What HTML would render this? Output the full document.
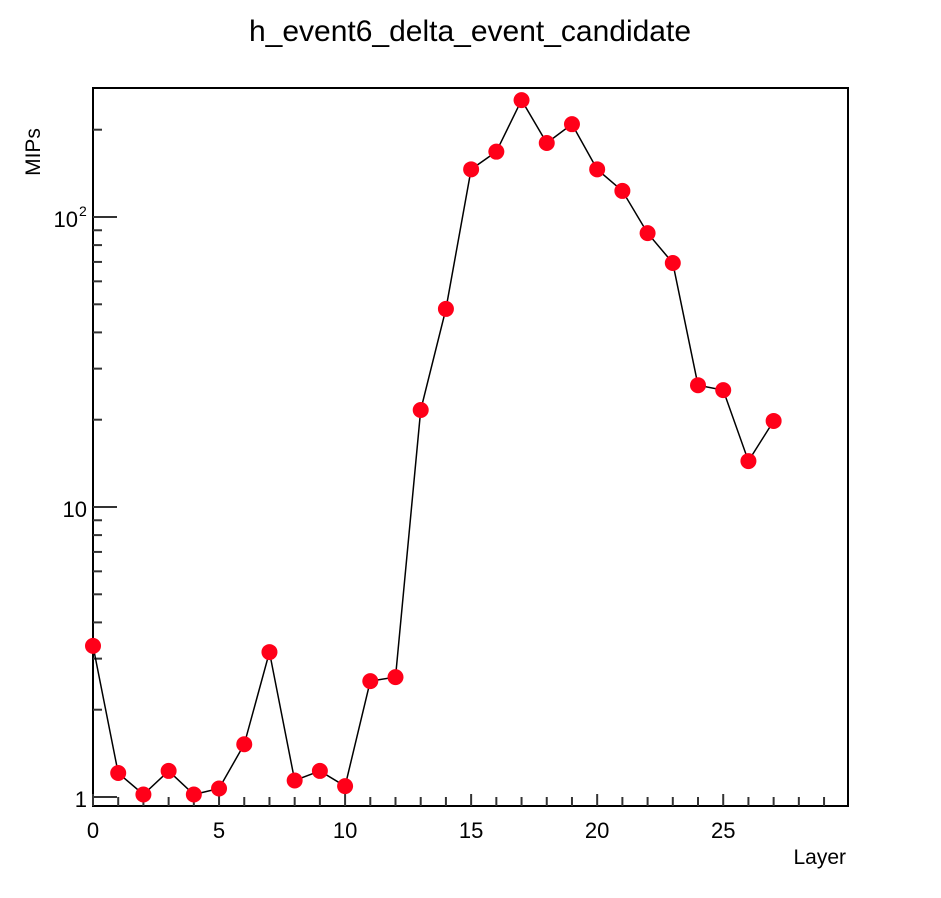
<!DOCTYPE html>
<html><head><meta charset="utf-8"><style>
html,body{margin:0;padding:0;background:#fff;}
svg{display:block;font-family:"Liberation Sans",Arial,sans-serif;}
</style></head><body>
<svg id="chart" width="941" height="898">
<text x="470" y="41" font-size="30" text-anchor="middle">h_event6_delta_event_candidate</text>
<text x="40" y="152" font-size="21" text-anchor="middle" transform="rotate(-90 40 152)">MIPs</text>
<text x="846" y="864" font-size="21" text-anchor="end">Layer</text>
<g id="axes"></g>
<g id="series"></g>
</svg>
<script>
const layers=[0,1,2,3,4,5,6,7,8,9,10,11,12,13,14,15,16,17,18,19,20,21,22,23,24,25,26,27];
const mips=[3.32,1.21,1.02,1.23,1.02,1.07,1.52,3.16,1.14,1.23,1.09,2.51,2.59,21.6,48.2,146,168,253,180,209,146,123,88,69.4,26.3,25.3,14.4,19.8];
const xTickLabels=[0,5,10,15,20,25];
const yTickLabels=["1","10","10"];
const yTickValues=[1,10,100];

const L=93,R=848,T=88,B=806;
const xMin=0,xMax=29.95;
const y1px=797,pxPerDecade=290;
const xs=v=>L+(v-xMin)/(xMax-xMin)*(R-L);
const ys=v=>y1px-Math.log10(v)*pxPerDecade;
const NS="http://www.w3.org/2000/svg";
function mk(tag,attrs,parent){const e=document.createElementNS(NS,tag);for(const k in attrs)e.setAttribute(k,attrs[k]);parent.appendChild(e);return e;}
const ax=document.getElementById('axes'),se=document.getElementById('series');
let f=mk('rect',{x:L,y:T,width:R-L,height:B-T,fill:'none',stroke:'#000','stroke-width':2},ax);


for(let i=0;i<30;i++){
  const x=xs(i);
  let t=mk('line',{x1:x,x2:x,y1:B,y2:B-(i%5===0?12:9),stroke:'#333','stroke-width':2},ax);
  
  
}
xTickLabels.forEach(v=>{
  let t=mk('text',{x:xs(v),y:838,'font-size':22,'text-anchor':'middle'},ax);t.textContent=v;
  
  
});
for(let d=0;d<3;d++){for(let m=1;m<10;m++){
  const v=m*Math.pow(10,d);const y=ys(v);if(y<T||y>B)continue;
  let t=mk('line',{x1:L,x2:L+(m===1?24:9),y1:y,y2:y,stroke:'#333','stroke-width':2},ax);
  
  
}}
yTickValues.forEach((v,i)=>{
  let t=mk('text',{x:i===2?78:87,y:ys(v)+(i===2?10:10),'font-size':22,'text-anchor':'end'},ax);t.textContent=yTickLabels[i];
  
  
  if(i===2){let s=mk('text',{x:79,y:ys(v)-1,'font-size':14,'text-anchor':'start'},ax);s.textContent='2';
    
    }
});
let pl=mk('polyline',{points:layers.map((l,i)=>xs(l)+','+ys(mips[i])).join(' '),fill:'none',stroke:'#000','stroke-width':1.5},se);


layers.forEach((l,i)=>{
  let c=mk('circle',{cx:xs(l),cy:ys(mips[i]),r:8,fill:'#ff0019'},se);
  
  
});
</script>
</body></html>
